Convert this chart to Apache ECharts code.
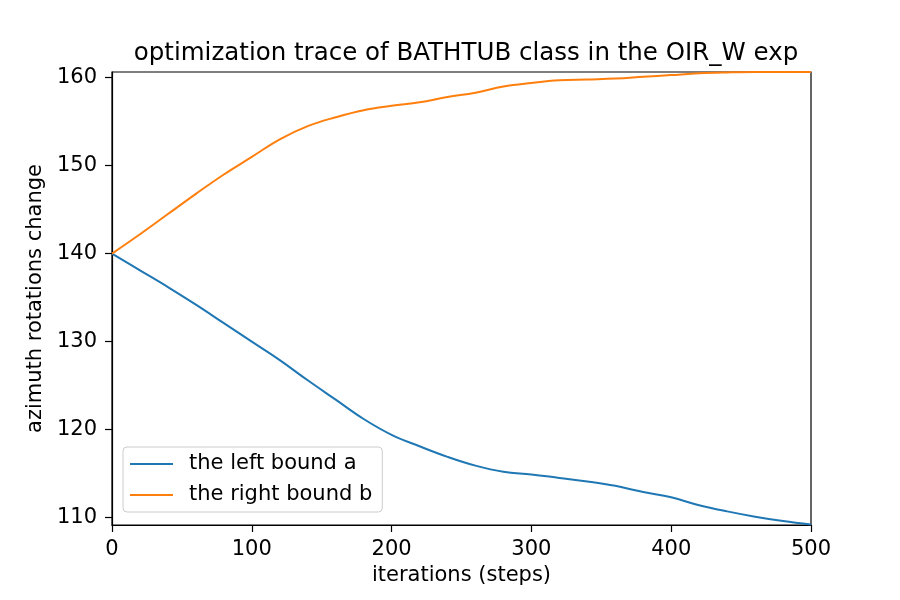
<!DOCTYPE html>
<html>
<head>
<meta charset="utf-8">
<script src="https://cdn.jsdelivr.net/npm/echarts@6/dist/echarts.min.js"></script>
<style>
  html, body { margin: 0; padding: 0; background: #fff; }
  #chart { width: 900px; height: 600px; }
</style>
</head>
<body>
<div id="chart"></div>
<script>
  // steps along the x axis
  var steps = [0, 20, 40, 60, 80, 100, 120, 140, 160, 180, 200, 220, 240,
    260, 280, 300, 320, 340, 360, 380, 400, 420, 440, 460, 480, 500]
  // the left bound a
  var leftBound = [140.0, 138.1, 136.2, 134.2, 132.1, 130.0, 127.9, 125.6, 123.4,
    121.2, 119.4, 118.1, 116.9, 115.9, 115.2, 114.9, 114.5, 114.1, 113.6,
    112.9, 112.3, 111.4, 110.7, 110.1, 109.6, 109.2]
  // the right bound b
  var rightBound = [140.0, 142.2, 144.5, 146.8, 149.0, 151.0, 153.0, 154.5, 155.5,
    156.3, 156.8, 157.2, 157.8, 158.3, 159.0, 159.4, 159.7, 159.8, 159.9,
    160.1, 160.3, 160.5, 160.6, 160.65, 160.65, 160.65]
  var yTicks = [110, 120, 130, 140, 150, 160]

  var font = 'DejaVu Sans'
  var myChart = echarts.init(document.getElementById('chart'))

  function pairs(ys) {
    return steps.map(function (s, i) { return [s, ys[i]] })
  }

  var option = {
    backgroundColor: '#fff',
    animation: false,
    title: {
      text: 'optimization trace of BATHTUB class in the OIR_W exp',
      left: 461,
      textAlign: 'center',
      top: 36,
      textStyle: { fontFamily: font, fontSize: 24.5, fontWeight: 'normal', color: '#000' }
    },
    grid: {
      left: 112, right: 89, top: 72, bottom: 75,
      show: true, borderColor: '#000', borderWidth: 1.2, backgroundColor: 'transparent'
    },
    legend: {
      orient: 'vertical',
      left: 123, top: 447,
      padding: [6, 10, 6, 7],
      itemGap: 9,
      itemWidth: 43, itemHeight: 2,
      icon: 'rect',
      borderColor: '#ccc', borderWidth: 1, borderRadius: 4,
      backgroundColor: 'rgba(255,255,255,0.8)',
      textStyle: { fontFamily: font, fontSize: 21, color: '#000', lineHeight: 22, padding: [0, 0, 0, 11] },
      data: ['the left bound a', 'the right bound b']
    },
    xAxis: {
      type: 'value',
      min: 0, max: 500, interval: 100,
      name: 'iterations (steps)',
      nameLocation: 'middle',
      nameGap: 33,
      nameTextStyle: { fontFamily: font, fontSize: 21, color: '#000' },
      axisLine: { show: true, lineStyle: { color: '#000', width: 1.2 } },
      axisTick: { show: true, inside: false, length: 7, lineStyle: { color: '#000', width: 1.2 } },
      axisLabel: { fontFamily: font, fontSize: 21, color: '#000', margin: 14 },
      splitLine: { show: false }
    },
    yAxis: {
      type: 'value',
      min: 109.15, max: 160.65,
      name: 'azimuth rotations change',
      nameLocation: 'middle',
      nameGap: 60,
      nameTextStyle: { fontFamily: font, fontSize: 21, color: '#000' },
      axisLine: { show: true, lineStyle: { color: '#000', width: 1.2 } },
      axisTick: { show: true, length: 7, customValues: yTicks, lineStyle: { color: '#000', width: 1.2 } },
      axisLabel: { fontFamily: font, fontSize: 21, color: '#000', margin: 15, customValues: yTicks },
      splitLine: { show: false }
    },
    series: [
      {
        name: 'the left bound a',
        type: 'line',
        data: pairs(leftBound),
        symbol: 'none',
        smooth: 0.4,
        color: '#1f77b4',
        lineStyle: { width: 2, color: '#1f77b4' }
      },
      {
        name: 'the right bound b',
        type: 'line',
        data: pairs(rightBound),
        symbol: 'none',
        smooth: 0.4,
        color: '#ff7f0e',
        lineStyle: { width: 2, color: '#ff7f0e' }
      }
    ]
  }
  myChart.setOption(option)
</script>
</body>
</html>
